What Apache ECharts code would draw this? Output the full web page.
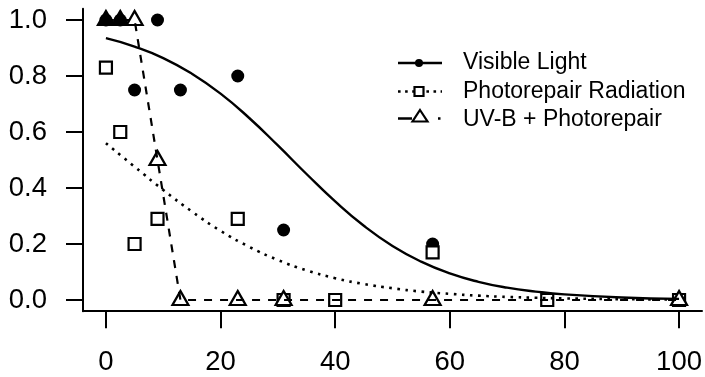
<!DOCTYPE html>
<html>
<head>
<meta charset="utf-8">
<script src="https://cdn.jsdelivr.net/npm/echarts@6/dist/echarts.min.js"></script>
<style>
html,body{margin:0;padding:0;background:#fff;}
#chart{width:705px;height:377px;}
</style>
</head>
<body>
<div id="chart"></div>
<script>
// ---- data ----
const xTicks = [0, 20, 40, 60, 80, 100];
const yTicks = [0, 0.2, 0.4, 0.6, 0.8, 1.0];

const legendNames = ['Visible Light', 'Photorepair Radiation', 'UV-B + Photorepair'];

const visX = [0, 2.5, 5, 9, 13, 23, 31, 57, 100];
const visY = [1, 1, 0.75, 1, 0.75, 0.8, 0.25, 0.2, 0];

const photoX = [0, 2.5, 5, 9, 23, 31, 40, 57, 77, 100];
const photoY = [0.83, 0.6, 0.2, 0.29, 0.29, 0, 0, 0.17, 0, 0];

const uvX = [0, 2.5, 5, 9, 13, 23, 31, 57, 100];
const uvY = [1, 1, 1, 0.5, 0, 0, 0, 0, 0];

const curveX = [0, 5, 10, 15, 20, 25, 30, 35, 40, 45, 50, 55, 60, 65, 70, 75, 80, 90, 100];
const visCurveY = [0.935, 0.905, 0.864, 0.808, 0.737, 0.65, 0.552, 0.45, 0.352, 0.265, 0.193, 0.137, 0.095, 0.065, 0.044, 0.03, 0.02, 0.009, 0.004];
const photoCurveY = [0.56, 0.476, 0.393, 0.316, 0.247, 0.19, 0.143, 0.106, 0.078, 0.057, 0.042, 0.030, 0.022, 0.0155, 0.011, 0.008, 0.0057, 0.003, 0.0015];

const uvLineX = [0, 5, 9, 13, 100];
const uvLineY = [1, 1, 0.5, 0, 0];

// ---- build ----
const zip = (xs, ys) => xs.map((x, i) => [x, ys[i]]);
const FONT = 'Liberation Sans, Arial, sans-serif';

const uvData = uvX.map((x, i) => {
  const y = uvY[i];
  const covered = visX.some((vx, j) => vx === x && visY[j] === y && x < 5);
  return covered ? { value: [x, y], itemStyle: { color: '#000' } } : [x, y];
});

const chart = echarts.init(document.getElementById('chart'), null, { renderer: 'canvas' });

const axisCommon = {
  type: 'value',
  splitLine: { show: false },
  axisLine: { show: true, onZero: false, lineStyle: { color: '#000', width: 2 } },
};

chart.setOption({
  animation: false,
  backgroundColor: '#fff',
  grid: { left: 83, right: 3, top: 8.8, bottom: 65.8, containLabel: false },
  xAxis: Object.assign({}, axisCommon, {
    min: -4, max: 104,
    axisTick: { show: true, length: 17, customValues: xTicks, lineStyle: { color: '#000', width: 2 } },
    axisLabel: { customValues: xTicks, fontSize: 27.5, color: '#000', margin: 37, fontFamily: FONT }
  }),
  yAxis: Object.assign({}, axisCommon, {
    min: -0.04, max: 1.04,
    axisTick: { show: true, length: 17, customValues: yTicks, lineStyle: { color: '#000', width: 2 } },
    axisLabel: { customValues: yTicks, fontSize: 27.5, color: '#000', margin: 36, fontFamily: FONT,
      formatter: v => Number(v).toFixed(1) }
  }),
  series: [
    { name: legendNames[0] + ' fit', type: 'line', data: zip(curveX, visCurveY), showSymbol: false,
      smooth: 0.5,
      lineStyle: { color: '#000', width: 2.4 }, silent: true },
    { name: legendNames[1] + ' fit', type: 'line', data: zip(curveX, photoCurveY), showSymbol: false,
      smooth: 0.5,
      lineStyle: { color: '#000', width: 2.6, type: [2.6, 5.5], cap: 'butt' }, silent: true },
    { name: legendNames[2] + ' fit', type: 'line', data: zip(uvLineX, uvLineY), showSymbol: false, smooth: false,
      lineStyle: { color: '#000', width: 2.2, type: [8, 8] }, silent: true },
    { name: legendNames[0], type: 'scatter', data: zip(visX, visY), symbol: 'circle', symbolSize: 13,
      itemStyle: { color: '#000', opacity: 1 }, silent: true },
    { name: legendNames[1], type: 'scatter', data: zip(photoX, photoY), symbol: 'rect', symbolSize: 12,
      itemStyle: { color: '#fff', borderColor: '#000', borderWidth: 2.2, opacity: 1 }, silent: true },
    { name: legendNames[2], type: 'scatter', data: uvData, symbol: 'triangle', symbolSize: [16, 14], symbolOffset: [0, -2],
      itemStyle: { color: '#fff', borderColor: '#000', borderWidth: 2.2, opacity: 1 }, silent: true }
  ],
  graphic: [
    // row 1
    { type: 'line', shape: { x1: 398, y1: 63, x2: 442, y2: 63 }, style: { stroke: '#000', lineWidth: 2.4 } },
    { type: 'circle', shape: { cx: 419, cy: 63, r: 4 }, style: { fill: '#000' } },
    { type: 'text', x: 463, y: 63, style: { text: legendNames[0], font: '23px ' + FONT, fill: '#000', verticalAlign: 'middle' } },
    // row 2
    { type: 'line', shape: { x1: 398, y1: 91.5, x2: 442, y2: 91.5 }, style: { stroke: '#000', lineWidth: 2.6, lineDash: [2.6, 4.5] } },
    { type: 'rect', shape: { x: 414.5, y: 87, width: 9, height: 9 }, style: { fill: '#fff', stroke: '#000', lineWidth: 2.2 } },
    { type: 'text', x: 463, y: 91.5, style: { text: legendNames[1], font: '23px ' + FONT, fill: '#000', verticalAlign: 'middle' } },
    // row 3
    { type: 'line', shape: { x1: 398, y1: 118.5, x2: 442, y2: 118.5 }, style: { stroke: '#000', lineWidth: 2.4, lineDash: [14, 26, 2.5, 100] } },
    { type: 'polygon', shape: { points: [[420, 110], [427.5, 121.5], [412.5, 121.5]] }, style: { fill: '#fff', stroke: '#000', lineWidth: 2.2 } },
    { type: 'text', x: 463, y: 119.3, style: { text: legendNames[2], font: '23px ' + FONT, fill: '#000', verticalAlign: 'middle' } }
  ]
});
</script>
</body>
</html>
